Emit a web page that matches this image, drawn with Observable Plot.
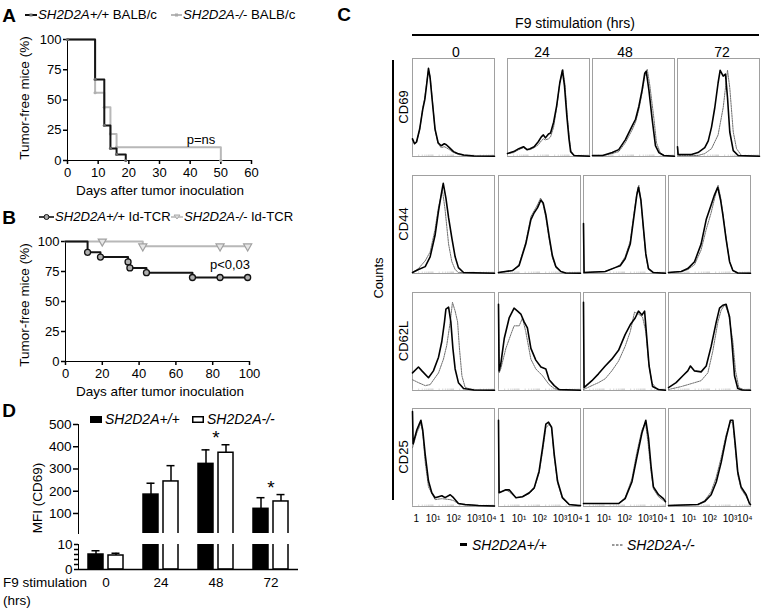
<!DOCTYPE html>
<html><head><meta charset="utf-8">
<script src="https://cdn.jsdelivr.net/npm/d3@7"></script>
<script src="https://cdn.jsdelivr.net/npm/@observablehq/plot@0.6"></script>
<style>
body{margin:0;background:#fff;}
#fig{position:relative;width:764px;height:613px;font-family:"Liberation Sans",Arial,sans-serif;color:#000;overflow:hidden;background:#fff;}
#fig svg{position:absolute;overflow:visible;}
#fig .sym svg{position:static;display:block;}
.sym{position:absolute;line-height:0;}
.t{position:absolute;white-space:nowrap;line-height:1;}
.ab g[aria-label*="axis"] path,.ab g[aria-label*="axis"] line{stroke-width:1.5px;}
</style></head><body><div id="fig"></div>
<script>
// ---------- Panel A: Kaplan-Meier, BALB/c ----------
const aDaysWT = [0, 9, 12, 14, 16, 19];
const aFreeWT = [100, 67, 29, 10, 5, 0];
const aDaysKO = [0, 9, 12, 14, 16, 50];
const aFreeKO = [100, 56, 44, 22, 11, 0];
const aXTicks = [0, 10, 20, 30, 40, 50, 60];
const aYTicks = [0, 25, 50, 75, 100];
// ---------- Panel B: Kaplan-Meier, Id-TCR ----------
const bDaysWT = [0, 12, 19, 34, 35, 44, 69, 99];
const bFreeWT = [100, 91, 87, 83, 78, 74, 70, 70];
const bMarkDaysWT = [12, 19, 34, 35, 44, 69, 84, 99];
const bMarkFreeWT = [91, 87, 83, 78, 74, 70, 70, 70];
const bDaysKO = [0, 42, 99];
const bFreeKO = [100, 96, 96];
const bMarkDaysKO = [20, 42, 84, 99];
const bMarkFreeKO = [100, 96, 96, 96];
const bXTicks = [0, 20, 40, 60, 80, 100];
const bYTicks = [0, 25, 50, 75, 100];
// ---------- Panel D: MFI (CD69) ----------
const dTimes = ["0", "24", "48", "72"];
const dMeanWT = [6, 185, 323, 121];
const dUpWT = [7.5, 236, 386, 171];
const dMeanKO = [5.6, 244, 373, 154];
const dUpKO = [6.5, 315, 409, 185];
const dSig = ["48", "72"];
const dUpperTicks = [100, 200, 300, 400, 500];
const dLowerTicks = [0, 2, 4, 6, 8, 10];
// ---------- Panel C: histograms, [log10 intensity, % of max height] ----------
const cTimes = ["0", "24", "48", "72"];
const cMarkers = ["CD69", "CD44", "CD62L", "CD25"];
const cTickValues = [1, 10, 100, 1000, 10000];
const cTickLabels = ["1", "10¹", "10²", "10³", "10⁴"];
const cd69WT = [
 [[0,18],[0.1,13],[0.2,15],[0.35,28],[0.5,48],[0.6,58],[0.7,75],[0.78,90],[0.86,80],[0.95,60],[1.1,28],[1.25,14],[1.4,11],[1.55,13],[1.65,12],[1.8,9],[2.0,5],[2.2,3],[2.5,1.5],[3.0,0.5],[4,0.3]],
 [[0,3],[0.3,5],[0.55,8],[0.78,10],[0.95,7],[1.1,8],[1.3,10],[1.5,15],[1.65,20],[1.75,22],[1.85,19],[2.0,23],[2.1,24],[2.25,35],[2.4,52],[2.55,75],[2.68,88],[2.78,72],[2.9,40],[3.0,18],[3.08,5],[3.25,1],[4,0.3]],
 [[0,1],[0.5,1],[0.96,4],[1.28,7],[1.6,17],[1.93,31],[2.1,38],[2.26,51],[2.42,68],[2.55,85],[2.62,87],[2.75,68],[2.91,38],[3.07,11],[3.24,4],[3.48,1],[4,0.3]],
 [[0,10],[0.03,2],[0.68,2],[1.0,4],[1.33,9],[1.5,16],[1.66,30],[1.82,50],[1.98,75],[2.08,88],[2.23,82],[2.34,84],[2.44,60],[2.55,25],[2.72,6],[2.96,1],[4,0.3]]
];
const cd69KO = [
 [[0,17],[0.1,13],[0.2,15],[0.35,27],[0.5,50],[0.6,60],[0.7,77],[0.78,88],[0.86,82],[0.95,62],[1.1,27],[1.25,13],[1.4,9],[1.55,10],[1.65,9],[1.8,7],[2.0,4],[2.2,2.5],[2.5,1],[3.0,0.5],[4,0.3]],
 [[0,3],[0.3,4],[0.55,7],[0.78,9],[0.95,7],[1.1,7],[1.3,9],[1.5,12],[1.65,16],[1.75,18],[1.85,17],[2.0,18],[2.1,20],[2.25,30],[2.4,50],[2.55,75],[2.7,89],[2.8,74],[2.92,40],[3.02,18],[3.1,5],[3.25,1],[4,0.3]],
 [[0,1],[0.5,1],[0.96,3],[1.28,5],[1.6,14],[1.93,27],[2.1,35],[2.26,48],[2.42,65],[2.55,82],[2.67,89],[2.8,72],[3.0,38],[3.12,14],[3.3,4],[3.5,1],[4,0.3]],
 [[0,10],[0.03,1],[1.0,1],[1.33,3],[1.66,8],[1.98,22],[2.23,50],[2.34,70],[2.44,88],[2.55,70],[2.72,25],[2.88,8],[3.12,1],[4,0.3]]
];
const cd44WT = [
 [[0,1],[0.29,4],[0.62,7],[0.86,17],[1.1,39],[1.27,64],[1.43,84],[1.5,92],[1.63,77],[1.76,57],[1.92,36],[2.08,17],[2.24,6],[2.49,1],[4,0.3]],
 [[0,1],[0.68,3],[1.0,8],[1.33,30],[1.58,55],[1.74,62],[1.9,67],[2.07,75],[2.18,72],[2.31,60],[2.47,38],[2.63,18],[2.8,7],[3.04,2],[3.28,0.5],[4,0.3]],
 [[0,51],[0.03,1],[1.06,2],[1.54,6],[1.79,8],[2.03,15],[2.28,30],[2.44,55],[2.6,80],[2.68,88],[2.8,75],[2.93,45],[3.04,20],[3.17,5],[3.41,1],[4,0.3]],
 [[0,1],[0.62,2],[0.94,5],[1.27,12],[1.59,30],[1.84,55],[2.08,70],[2.24,80],[2.4,88],[2.54,75],[2.65,60],[2.81,35],[2.98,12],[3.14,3],[3.38,0.5],[4,0.3]]
];
const cd44KO = [
 [[0,1],[0.29,5],[0.62,13],[0.86,22],[1.1,45],[1.27,68],[1.46,85],[1.59,65],[1.76,30],[1.92,12],[2.08,4],[2.24,1],[4,0.3]],
 [[0,1],[0.68,3],[1.0,9],[1.33,32],[1.58,58],[1.74,64],[1.9,70],[2.05,77],[2.18,70],[2.31,57],[2.47,35],[2.63,16],[2.8,6],[3.04,2],[3.28,0.5],[4,0.3]],
 [[0,1],[1.06,2],[1.54,6],[1.79,9],[2.03,17],[2.28,33],[2.44,58],[2.6,82],[2.7,90],[2.8,74],[2.93,43],[3.04,18],[3.17,4],[3.41,1],[4,0.3]],
 [[0,1],[0.62,2],[0.94,4],[1.27,9],[1.59,24],[1.84,45],[2.08,62],[2.24,76],[2.42,90],[2.54,78],[2.65,62],[2.81,36],[2.98,12],[3.14,3],[3.38,0.5],[4,0.3]]
];
const cd62lWT = [
 [[0,18],[0.29,24],[0.46,20],[0.78,13],[1.02,20],[1.27,34],[1.43,50],[1.56,70],[1.63,83],[1.76,85],[1.87,70],[1.97,43],[2.08,22],[2.24,8],[2.49,2],[3,0.5],[4,0.3]],
 [[0,88],[0.03,20],[0.11,27],[0.28,53],[0.52,74],[0.76,84],[0.93,81],[1.09,78],[1.25,70],[1.41,64],[1.58,43],[1.82,31],[2.07,24],[2.31,22],[2.47,11],[2.72,5],[2.96,1],[4,0.3]],
 [[0,90],[0.03,3],[0.08,4],[0.41,10],[0.73,17],[1.06,25],[1.38,32],[1.71,41],[2.03,57],[2.28,67],[2.52,74],[2.68,81],[2.85,77],[2.98,81],[3.09,53],[3.2,25],[3.37,4],[3.66,1],[4,0.3]],
 [[0,3],[0.37,8],[0.7,15],[0.94,20],[1.07,25],[1.27,20],[1.59,19],[1.84,25],[2.08,45],[2.33,70],[2.49,84],[2.65,87],[2.81,88],[2.98,75],[3.09,50],[3.22,15],[3.38,2],[3.6,0.5],[4,0.3]]
];
const cd62lKO = [
 [[0,11],[0.29,8],[0.62,5],[0.86,6],[1.27,18],[1.51,32],[1.67,46],[1.84,70],[1.95,90],[2.08,81],[2.2,70],[2.29,43],[2.41,15],[2.57,3],[3,0.5],[4,0.3]],
 [[0,88],[0.03,18],[0.11,22],[0.36,43],[0.6,57],[0.76,66],[1.01,66],[1.17,74],[1.33,60],[1.58,32],[1.82,22],[2.15,15],[2.47,6],[2.72,2],[3,0.5],[4,0.3]],
 [[0,1],[0.41,5],[0.73,8],[1.06,12],[1.38,20],[1.71,30],[2.03,45],[2.28,60],[2.49,80],[2.68,78],[2.88,75],[3.04,60],[3.17,30],[3.33,8],[3.6,1],[4,0.3]],
 [[0,1],[0.62,4],[1.11,7],[1.59,10],[1.92,18],[2.16,40],[2.41,70],[2.57,82],[2.76,88],[2.93,78],[3.14,50],[3.27,20],[3.43,3],[3.7,0.5],[4,0.3]]
];
const cd25WT = [
 [[0,97],[0.03,64],[0.21,78],[0.33,84],[0.41,88],[0.5,78],[0.62,53],[0.78,26],[0.94,14],[1.1,9],[1.27,10],[1.43,11],[1.59,9],[1.84,12],[2.0,9],[2.24,3],[2.57,2],[3.22,1],[4,0.5]],
 [[0,88],[0.03,14],[0.36,17],[0.52,17],[0.85,9],[1.17,10],[1.5,14],[1.74,19],[1.98,36],[2.15,60],[2.31,84],[2.44,86],[2.59,81],[2.72,53],[2.88,26],[3.12,9],[3.45,2],[3.9,1],[4,1]],
 [[0,3],[1.71,3],[2.03,8],[2.36,25],[2.6,50],[2.85,75],[3.04,88],[3.17,70],[3.3,40],[3.41,20],[3.66,12],[3.9,8],[4,5]],
 [[0,1],[1.43,2],[1.76,5],[2.08,12],[2.33,25],[2.57,45],[2.81,70],[3.02,88],[3.14,88],[3.25,65],[3.38,35],[3.54,20],[3.79,12],[3.95,3],[4,2]]
];
const cd25KO = [
 [[0,60],[0.21,75],[0.41,85],[0.5,75],[0.62,45],[0.78,20],[1.1,7],[1.43,8],[1.84,7],[2.0,6],[2.24,3],[2.57,1.5],[3.22,1],[4,0.5]],
 [[0,14],[0.36,17],[0.52,15],[0.85,9],[1.17,10],[1.5,13],[1.74,18],[1.98,34],[2.15,56],[2.31,80],[2.46,84],[2.59,80],[2.72,50],[2.88,24],[3.12,8],[3.45,2],[4,1]],
 [[0,3],[1.71,3],[2.03,9],[2.36,28],[2.6,55],[2.85,78],[3.02,86],[3.15,65],[3.3,35],[3.41,18],[3.66,10],[3.9,6],[4,4]],
 [[0,1],[1.43,2],[1.76,6],[2.08,15],[2.33,30],[2.57,50],[2.81,73],[3.02,87],[3.14,85],[3.25,60],[3.38,32],[3.54,18],[3.79,10],[3.95,3],[4,2]]
];

// ================= rendering =================
const fig = document.getElementById("fig");
const FONT = '"Liberation Sans", Arial, sans-serif';
function place(el, left, top, cls) {
  el.style.left = left + "px"; el.style.top = top + "px";
  if (cls) el.classList.add(cls);
  fig.appendChild(el); return el;
}
function txt(html, x, y, o = {}) {
  const d = document.createElement("div");
  d.className = "t";
  d.innerHTML = html;
  d.style.fontSize = (o.size || 13) + "px";
  if (o.bold) d.style.fontWeight = "bold";
  const tx = o.anchor === "start" ? "0" : "-50%";
  d.style.transform = `translate(${tx},-50%)` + (o.rotate ? ` rotate(${o.rotate}deg)` : "");
  d.style.left = x + "px"; d.style.top = y + "px";
  fig.appendChild(d); return d;
}
function svgBox(html, x, y, w, h) {
  const d = document.createElement("div");
  d.className = "sym";
  d.style.left = x + "px"; d.style.top = y + "px";
  d.style.width = w + "px"; d.style.height = h + "px";
  d.innerHTML = `<svg width="${w}" height="${h}">${html}</svg>`;
  fig.appendChild(d);
}
const baseStyle = {fontFamily: FONT, fontSize: "13px", background: "transparent", color: "#000", overflow: "visible"};

// ---- Panel A ----
const aWT = aDaysWT.map((d, i) => ({d, f: aFreeWT[i]}));
const aKO = aDaysKO.map((d, i) => ({d, f: aFreeKO[i]}));
place(Plot.plot({
  width: 270, height: 170, marginLeft: 67, marginRight: 19, marginTop: 9, marginBottom: 40,
  style: baseStyle,
  x: {domain: [0, 60], ticks: aXTicks, line: true, label: null, tickSize: 4, tickPadding: 3},
  y: {domain: [0, 100], ticks: aYTicks, line: true, label: null, tickSize: 4, tickPadding: 2},
  marks: [
    Plot.line(aKO, {x: "d", y: "f", curve: "step-after", stroke: "#b8b8b8", strokeWidth: 2}),
    Plot.dot(aKO, {x: "d", y: "f", r: 1.6, fill: "#b0b0b0"}),
    Plot.line(aWT, {x: "d", y: "f", curve: "step-after", stroke: "#151515", strokeWidth: 2}),
    Plot.dot(aWT, {x: "d", y: "f", r: 1.6, fill: "#666"})
  ]
}), 0, 30, "ab");
txt("A", 9, 15, {size: 19, bold: true});
svgBox(`<line x1="0" y1="6" x2="12" y2="6" stroke="#111" stroke-width="2"/><rect x="4.5" y="4.5" width="3" height="3" fill="#777"/>`, 25, 9, 12, 12);
txt("<i>SH2D2A+/+</i> BALB/c", 38, 15, {size: 13.3, anchor: "start"});
svgBox(`<line x1="0" y1="6" x2="11" y2="6" stroke="#b8b8b8" stroke-width="2"/><rect x="4" y="4.5" width="3" height="3" fill="#aaa"/>`, 171, 9, 12, 12);
txt("<i>SH2D2A-/-</i> BALB/c", 183, 15, {size: 13.3, anchor: "start"});
txt("p=ns", 201, 139, {size: 13});
txt("Tumor-free mice (%)", 25, 98, {size: 13.5, rotate: -90});
txt("Days after tumor inoculation", 160, 191, {size: 13.5});

// ---- Panel B ----
const bWT = bDaysWT.map((d, i) => ({d, f: bFreeWT[i]}));
const bKO = bDaysKO.map((d, i) => ({d, f: bFreeKO[i]}));
const bWTm = bMarkDaysWT.map((d, i) => ({d, f: bMarkFreeWT[i]}));
const bKOm = bMarkDaysKO.map((d, i) => ({d, f: bMarkFreeKO[i]}));
place(Plot.plot({
  width: 265, height: 165, marginLeft: 65, marginRight: 16, marginTop: 11, marginBottom: 34,
  style: baseStyle,
  x: {domain: [0, 100], ticks: bXTicks, line: true, label: null, tickSize: 4, tickPadding: 3},
  y: {domain: [0, 100], ticks: bYTicks, line: true, label: null, tickSize: 4, tickPadding: 2},
  marks: [
    Plot.line(bKO, {x: "d", y: "f", curve: "step-after", stroke: "#b8b8b8", strokeWidth: 2}),
    Plot.dot(bKOm, {x: "d", y: "f", symbol: "triangle", r: 3, rotate: 180, stroke: "#a0a0a0", fill: "#e6e6e6", strokeWidth: 1.2}),
    Plot.line(bWT, {x: "d", y: "f", curve: "step-after", stroke: "#151515", strokeWidth: 2}),
    Plot.dot(bWTm, {x: "d", y: "f", r: 3, stroke: "#111", fill: "#b0b0b0", strokeWidth: 1.3})
  ]
}), 0, 230, "ab");
txt("B", 9, 217, {size: 19, bold: true});
svgBox(`<line x1="0" y1="6" x2="15" y2="6" stroke="#111" stroke-width="1.6"/><circle cx="7.5" cy="6" r="2.5" fill="#aaa" stroke="#111"/>`, 39, 211, 15, 12);
txt("<i>SH2D2A+/+</i> Id-TCR", 55, 217, {size: 13.1, anchor: "start"});
svgBox(`<line x1="0" y1="6" x2="12" y2="6" stroke="#b8b8b8" stroke-width="1.6"/><path d="M3,4 L9,4 L6,8 Z" fill="#ddd" stroke="#aaa"/>`, 171, 211, 12, 12);
txt("<i>SH2D2A-/-</i> Id-TCR", 184, 217, {size: 13.1, anchor: "start"});
txt("p&lt;0,03", 230, 264, {size: 13});
txt("Tumor-free mice (%)", 25, 305, {size: 13.5, rotate: -90});
txt("Days after tumor inoculation", 160, 392, {size: 13.5});

// ---- Panel D ----
const dRows = dTimes.flatMap((t, i) => [
  {time: t, geno: "WT", v: dMeanWT[i], hi: dUpWT[i]},
  {time: t, geno: "KO", v: dMeanKO[i], hi: dUpKO[i]}
]);
const dStars = dSig.map(t => {
  const i = dTimes.indexOf(t);
  return {time: t, top: Math.max(dUpWT[i], dUpKO[i])};
});
function dPlot(upper) {
  return Plot.plot({
    width: 300, height: upper ? 121 : 62,
    marginLeft: 78, marginRight: 2, marginTop: upper ? 10 : 6, marginBottom: upper ? 2 : 31,
    style: {...baseStyle, fontSize: "13.5px"},
    fx: {domain: dTimes, padding: 0, axis: upper ? null : "bottom", label: null, tickSize: 0, tickPadding: 8},
    x: {domain: ["WT", "KO"], paddingInner: 0.25, paddingOuter: 0.5, axis: null},
    y: upper
      ? {domain: [10, 500], ticks: dUpperTicks, line: true, label: null, tickSize: 5, tickPadding: 2}
      : {domain: [0, 10], ticks: dLowerTicks, tickFormat: d => (d % 10 === 0 ? d : ""), line: true, label: null, tickSize: 4, tickPadding: 2},
    color: {domain: ["WT", "KO"], range: ["#000", "#fff"]},
    marks: [
      Plot.barY(dRows, {fx: "time", x: "geno", y1: 0, y2: "v", fill: "geno", stroke: "#000", strokeWidth: 1.5, clip: true}),
      Plot.ruleX(dRows, {fx: "time", x: "geno", y1: "v", y2: "hi", stroke: "#000", strokeWidth: 1.5, clip: true}),
      Plot.tickY(dRows, {fx: "time", x: "geno", y: "hi", stroke: "#000", strokeWidth: 1.5, insetLeft: 3.5, insetRight: 3.5, clip: true}),
      upper ? Plot.text(dStars, {fx: "time", y: "top", text: () => "*", dy: -7, fontSize: 19}) : null,
      upper ? null : Plot.ruleY([0], {stroke: "#000", strokeWidth: 1.5})
    ]
  });
}
place(dPlot(true), 0, 414, "ab");
place(dPlot(false), 0, 538, "ab");
txt("D", 9, 410, {size: 19, bold: true});
svgBox(`<rect x="0" y="0" width="12" height="7" fill="#000"/>`, 90, 416, 12, 7);
txt("<i>SH2D2A+/+</i>", 105, 419, {size: 14, anchor: "start"});
svgBox(`<rect x="0.75" y="0.75" width="10.5" height="5.5" fill="#fff" stroke="#000" stroke-width="1.5"/>`, 192, 416, 12, 7);
txt("<i>SH2D2A-/-</i>", 207, 419, {size: 14, anchor: "start"});
txt("MFI (CD69)", 38, 498, {size: 13.5, rotate: -90});
txt("F9 stimulation", 3, 583, {size: 13.5, anchor: "start"});
txt("(hrs)", 3, 601, {size: 13.5, anchor: "start"});

// ---- Panel C ----
txt("C", 344, 14, {size: 19, bold: true});
txt("F9 stimulation (hrs)", 575, 23, {size: 14});
svgBox(`<rect x="0" y="0" width="347" height="2" fill="#000"/>`, 412, 34, 347, 2);
const headX = [456, 542, 625, 722];
cTimes.forEach((t, i) => txt(t, headX[i], 52, {size: 14}));
svgBox(`<rect x="0" y="0" width="2" height="440" fill="#000"/>`, 392, 60, 2, 440);
txt("Counts", 378, 278, {size: 13, rotate: -90});

const minorTicks = d3.scaleLog().domain([1, 1e4]).ticks();
const tickLabel = new Map(cTickValues.map((v, i) => [v, cTickLabels[i]]));
function hist(wt, ko, bottom) {
  const pts = c => c.map(([l, v]) => ({x: Math.pow(10, l), y: v}));
  const n = cTickValues.length;
  const lab = (vals, anchor, dx) => Plot.text(vals, {x: d => d, text: d => tickLabel.get(d), frameAnchor: "bottom", dy: 15, dx, textAnchor: anchor, fontSize: 10});
  return Plot.plot({
    width: 82, height: bottom ? 122 : 98,
    marginTop: 0, marginLeft: 0, marginRight: 0, marginBottom: bottom ? 24 : 0,
    style: {...baseStyle, fontSize: "10px"},
    x: {type: "log", domain: [1, 1e4], axis: null},
    y: {domain: [0, 100], axis: null},
    marks: [
      Plot.frame({stroke: "#a0a0a0", strokeWidth: 1}),
      Plot.ruleX(minorTicks, {x: d => d, y1: 0, y2: 1.5, stroke: "#bbb", strokeWidth: 0.6}),
      Plot.line(pts(ko), {x: "x", y: "y", stroke: "#707070", strokeWidth: 1, strokeDasharray: "1.5,1"}),
      Plot.line(pts(wt), {x: "x", y: "y", stroke: "#000", strokeWidth: 1.6}),
      bottom ? lab(cTickValues.slice(0, 1), "start", 1) : null,
      bottom ? lab(cTickValues.slice(1, n - 1), "middle", 0) : null,
      bottom ? lab(cTickValues.slice(n - 1), "end", 2) : null
    ]
  });
}
const cRows = [
  {wt: cd69WT, ko: cd69KO, top: 58, lefts: [412, 507, 592, 677]},
  {wt: cd44WT, ko: cd44KO, top: 175, lefts: [412, 498, 583, 668]},
  {wt: cd62lWT, ko: cd62lKO, top: 292, lefts: [412, 498, 583, 668]},
  {wt: cd25WT, ko: cd25KO, top: 408, lefts: [412, 498, 583, 668]}
];
cRows.forEach((r, ri) => {
  txt(cMarkers[ri], 403, r.top + 49, {size: 13, rotate: -90});
  cTimes.forEach((t, ci) => place(hist(r.wt[ci], r.ko[ci], ri === 3), r.lefts[ci], r.top));
});
svgBox(`<rect x="0" y="0" width="7" height="3" fill="#000"/>`, 460, 543, 7, 3);
txt("<i>SH2D2A+/+</i>", 472, 545, {size: 14, anchor: "start"});
svgBox(`<line x1="0" y1="1" x2="11" y2="1" stroke="#333" stroke-width="1.2" stroke-dasharray="2.5,1.5"/>`, 612, 544, 11, 2);
txt("<i>SH2D2A-/-</i>", 627, 545, {size: 14, anchor: "start"});
</script></body></html>
